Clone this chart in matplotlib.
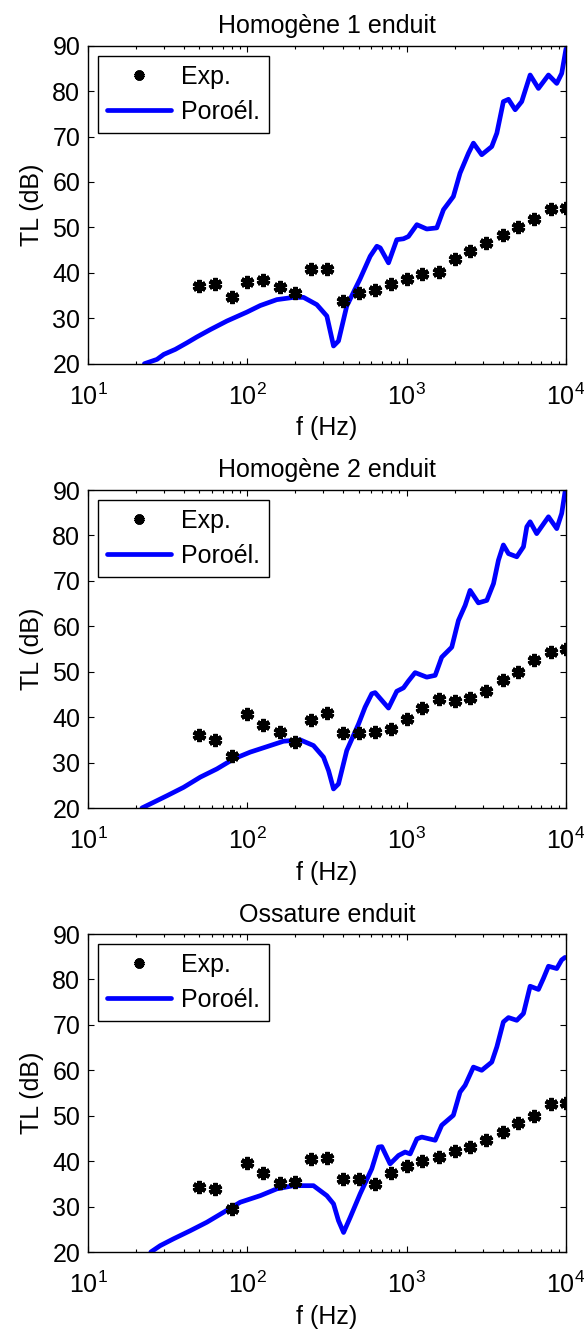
import matplotlib
matplotlib.use('Agg')
import matplotlib.pyplot as plt
from matplotlib.ticker import LogLocator, NullFormatter, FixedLocator

plt.rcParams['font.family'] = ['Liberation Sans', 'DejaVu Sans']
plt.rcParams['mathtext.fontset'] = 'custom'
plt.rcParams['mathtext.rm'] = 'Liberation Sans'
plt.rcParams['mathtext.it'] = 'Liberation Sans'
plt.rcParams['mathtext.bf'] = 'Liberation Sans'

titles = ['Homogène 1 enduit', 'Homogène 2 enduit', 'Ossature enduit']
legend_labels = ['Exp.', 'Poroél.']
yticks = [20, 30, 40, 50, 60, 70, 80, 90]

# third-octave band centre frequencies (Hz)
f_exp = [50, 63, 80, 100, 125, 160, 200, 250, 315, 400, 500, 630, 800,
         1000, 1250, 1600, 2000, 2500, 3150, 4000, 5000, 6300, 8000, 10000]

exp1 = [37.2, 37.6, 34.7, 37.9, 38.4, 36.9, 35.6, 40.9, 40.9, 33.7, 35.5, 36.2,
        37.6, 38.7, 39.8, 40.1, 43.0, 44.8, 46.5, 48.3, 50.0, 51.9, 54.0, 54.3]
exp2 = [36.0, 35.0, 31.4, 40.7, 38.2, 36.8, 34.6, 39.3, 41.0, 36.4, 36.4, 36.7,
        37.5, 39.6, 42.1, 43.9, 43.6, 44.2, 45.7, 48.2, 49.9, 52.6, 54.3, 54.9]
exp3 = [34.3, 33.9, 29.4, 39.6, 37.4, 35.1, 35.5, 40.4, 40.7, 36.0, 36.0, 34.9,
        37.4, 38.9, 40.0, 41.0, 42.2, 43.2, 44.6, 46.4, 48.5, 49.9, 52.5, 52.8]

f_mod1 = [22.6, 27.1, 29.9, 35.3, 41.8, 48.3, 58.5, 74.5, 99.3, 120.5, 153.1, 195.0,
          225.4, 272.9, 315.5, 347.5, 373.3, 420.7, 510.5, 590.2, 650.1, 682.3, 769.1,
          867.0, 955.0, 1025.6, 1158.8, 1336.6, 1545.3, 1702.2, 1963.4, 2162.7, 2443.4,
          2624.2, 2958.0, 3419.8, 3681.3, 4045.6, 4355.1, 4797.3, 5272.3, 5956.6,
          6714.3, 7762.5, 8749.8, 9397.2, 10000]
mod1 = [20.0, 20.95, 22.05, 23.15, 24.6, 25.9, 27.5, 29.4, 31.35, 32.8, 34.1, 34.6,
        34.6, 33.0, 30.5, 23.9, 25.0, 32.7, 38.7, 43.65, 45.85, 45.5, 42.2,
        47.3, 47.5, 48.0, 50.6, 49.65, 49.9, 53.9, 56.8, 61.95, 66.35,
        68.55, 66.0, 67.8, 70.75, 77.7, 78.2, 75.9, 77.7, 83.55,
        80.6, 83.55, 81.7, 83.9, 89.3]

f_mod2 = [21.8, 25.8, 31.3, 39.8, 50.7, 64.4, 82.0, 104.2, 132.7, 168.7, 214.8, 260.0,
          300.6, 323.6, 347.5, 373.3, 420.7, 498.9, 548.3, 603.9, 633.9, 698.2, 769.1,
          867.0, 955.0, 1025.6, 1129.8, 1336.6, 1510.1, 1659.6, 1918.7, 2113.5, 2328.0,
          2500.3, 2818.4, 3184.4, 3507.5, 3767.0, 4045.6, 4355.1, 4909.1, 5407.5,
          5675.4, 5956.6, 6546.4, 7762.5, 8749.8, 9397.2, 9862.8]
mod2 = [20.0, 21.25, 22.7, 24.55, 26.8, 28.6, 30.8, 32.3, 33.5, 34.7, 35.0, 33.75,
        31.2, 28.2, 24.2, 25.3, 32.65, 38.5, 42.2, 45.15, 45.4, 43.7, 42.0,
        45.7, 46.45, 47.95, 49.8, 48.8, 49.2, 53.2, 55.4, 61.3, 64.6,
        67.9, 65.15, 65.7, 69.4, 74.55, 77.9, 76.0, 75.3, 77.5,
        81.9, 83.0, 80.4, 84.1, 81.5, 84.85, 89.6]

f_mod3 = [24.8, 28.4, 34.4, 43.9, 55.7, 71.0, 90.2, 120.5, 153.1, 195.0, 260.0, 315.5,
          347.5, 373.3, 401.8, 442.6, 510.5, 603.9, 665.3, 698.2, 787.0, 889.2, 977.2,
          1051.9, 1158.8, 1244.5, 1510.1, 1659.6, 1963.4, 2162.7, 2328.0, 2624.2,
          2958.0, 3419.8, 3681.3, 4045.6, 4355.1, 4909.1, 5407.5, 5956.6, 6714.3,
          7211.1, 7762.5, 8749.8, 9397.2, 9862.8]
mod3 = [20.0, 21.4, 22.9, 24.7, 26.55, 28.75, 30.95, 32.4, 33.9, 34.6, 34.6, 32.4,
        30.6, 26.9, 24.3, 27.65, 32.8, 38.3, 43.1, 43.2, 39.4, 41.25, 42.0,
        41.6, 44.9, 45.3, 44.6, 47.9, 50.1, 55.2, 56.7, 60.7,
        60.0, 61.8, 65.15, 70.65, 71.6, 71.0, 72.5, 78.5, 77.8,
        80.2, 82.9, 82.4, 84.3, 84.85]

panels = [
    (titles[0], exp1, f_mod1, mod1),
    (titles[1], exp2, f_mod2, mod2),
    (titles[2], exp3, f_mod3, mod3),
]

W, H = 584, 1331
fig = plt.figure(figsize=(W / 100, H / 100), dpi=100)

FS = 18
ax_left = 88 / W
ax_w = 478 / W
ax_tops = [45.7, 490.0, 934.0]
ax_h_px = 318.0

for (title, exp_vals, fm, mv), top in zip(panels, ax_tops):
    ax = fig.add_axes([ax_left, 1 - (top + ax_h_px) / H, ax_w, ax_h_px / H])
    ax.plot(f_exp, exp_vals, linestyle='none', marker=(6, 2, 0), markersize=9.5,
            markeredgewidth=3.1, color='black', label=legend_labels[0], zorder=3)
    ax.plot(fm, mv, color='#0000ff', linewidth=3.4, solid_joinstyle='round',
            solid_capstyle='round', label=legend_labels[1], zorder=2)
    ax.set_xscale('log')
    ax.set_xlim(10, 10000)
    ax.set_ylim(20, 90)
    ax.set_yticks(yticks)
    ax.xaxis.set_major_locator(FixedLocator([10, 100, 1000, 10000]))
    ax.xaxis.set_minor_locator(LogLocator(base=10, subs=range(2, 10), numticks=20))
    ax.xaxis.set_minor_formatter(NullFormatter())
    ax.tick_params(which='both', direction='in', top=True, right=True,
                   labelsize=FS, width=0.8)
    ax.tick_params(axis='x', which='major', pad=14)
    ax.tick_params(axis='y', which='major', pad=5.5)
    ax.tick_params(which='major', length=4.5)
    ax.tick_params(which='minor', length=2.5)
    for s in ax.spines.values():
        s.set_linewidth(1.0)
    ax.set_title(title, fontsize=FS, pad=9)
    ax.set_xlabel('f (Hz)', fontsize=FS, labelpad=5)
    ax.set_ylabel('TL (dB)', fontsize=FS, labelpad=6)
    leg = ax.legend(loc='upper left', fontsize=FS, frameon=True, fancybox=False,
                    edgecolor='black', framealpha=1, handlelength=2.56,
                    borderaxespad=0.4, borderpad=0.36, labelspacing=0.44,
                    handletextpad=0.4, numpoints=1, markerscale=0.75)
    leg.get_frame().set_linewidth(1.0)

fig.savefig('out.png', dpi=100)
